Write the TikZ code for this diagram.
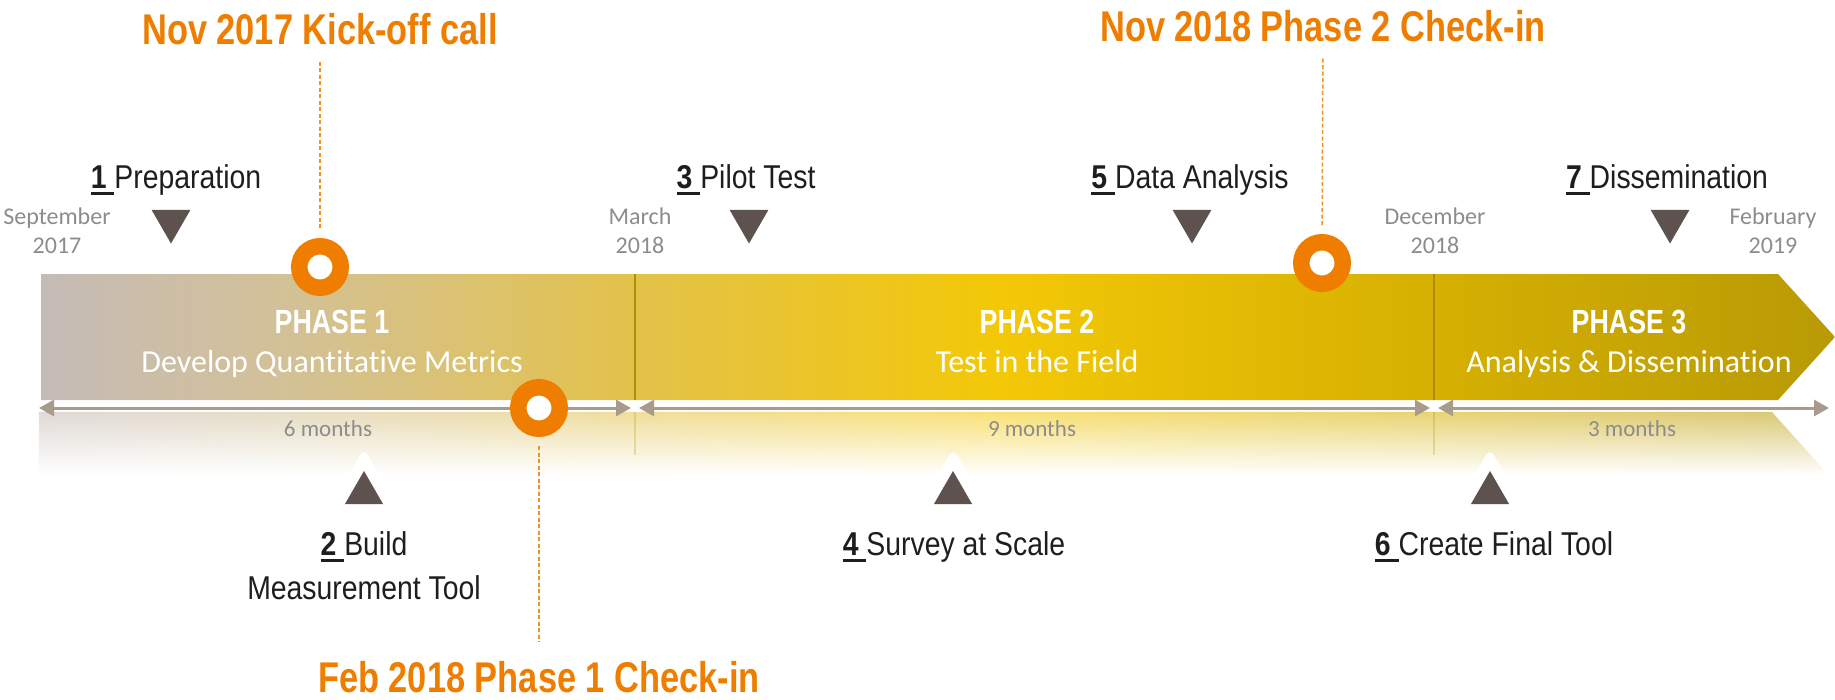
\documentclass[tikz,border=0pt]{standalone}
\usepackage{fontspec}
\setmainfont{Carlito}[Ligatures=NoCommon]
\newfontfamily\narrowfont[FakeStretch=0.86]{Liberation Sans}
\newfontfamily\headfont[FakeStretch=0.8]{Liberation Sans}
\newfontfamily\phasefont[FakeStretch=0.8]{Liberation Sans}
\usetikzlibrary{shapes.geometric, arrows.meta, fadings}

\definecolor{milestoneorange}{HTML}{EE7D00}
\definecolor{markbrown}{HTML}{5E524F}
\definecolor{dategray}{HTML}{8C8C8C}
\definecolor{spangray}{HTML}{A99B8C}
\definecolor{dividergold}{HTML}{B08E08}
\definecolor{labelblack}{HTML}{1E1E1E}
\definecolor{barA}{HTML}{C5BBB6}
\definecolor{barB}{HTML}{D3C196}
\definecolor{barC}{HTML}{E3C24A}
\definecolor{barD}{HTML}{F3C807}
\definecolor{barE}{HTML}{D6B002}
\definecolor{barF}{HTML}{B89A05}

\pgfdeclarehorizontalshading{barshade}{100bp}{color(0bp)=(barA); color(25bp)=(barA); color(32bp)=(barB); color(41.6bp)=(barC); color(51.7bp)=(barD); color(63.8bp)=(barE); color(75bp)=(barF); color(100bp)=(barF)}
\tikzfading[name=reflectfade, top color=transparent!45, middle color=transparent!85, bottom color=transparent!100]

% bold number with a thick underline under it
\newcommand\stepnum[1]{\setbox0\hbox{\bfseries#1\ }\rlap{\rule[-7pt]{\wd0}{3pt}}\box0}

\tikzstyle{milestone} = [inner sep=0pt, anchor=base, text=milestoneorange, font=\headfont\bfseries\fontsize{43}{50}\selectfont]
\tikzstyle{ring} = [circle, draw=milestoneorange, line width=16.5pt, fill=white, minimum size=41.5pt, inner sep=0pt]
\tikzstyle{dashline} = [milestoneorange!85, line width=1.5pt, dash pattern=on 4pt off 2.5pt]
\tikzstyle{downmark} = [regular polygon, regular polygon sides=3, shape border rotate=180, fill=markbrown, minimum size=45pt, inner sep=0pt]
\tikzstyle{upmark} = [regular polygon, regular polygon sides=3, fill=markbrown, minimum size=44pt, inner sep=0pt]
\tikzstyle{glow} = [regular polygon, regular polygon sides=3, fill=white, rounded corners=8pt, minimum size=95pt, inner sep=0pt]
\tikzstyle{steplabel} = [inner sep=0pt, anchor=base, text=labelblack, font=\narrowfont\fontsize{33}{44}\selectfont]
\tikzstyle{datelabel} = [inner sep=0pt, anchor=north, align=center, text=dategray, font=\fontsize{24}{29}\selectfont]
\tikzstyle{monthlabel} = [inner sep=0pt, anchor=base, text=dategray, font=\fontsize{23}{28}\selectfont]
\tikzstyle{phasetitle} = [inner sep=0pt, anchor=base, text=white, font=\phasefont\bfseries\fontsize{33.5}{40}\selectfont]
\tikzstyle{phasesub} = [inner sep=0pt, anchor=base, text=white, font=\fontsize{32}{38}\selectfont]
\tikzstyle{span} = [spangray, line width=3pt, {Triangle[length=15pt,width=16pt]}-{Triangle[length=15pt,width=16pt]}]
\tikzstyle{divider} = [dividergold, line width=2pt]

\begin{document}
\begin{tikzpicture}[x=1pt, y=-1pt]
\useasboundingbox (0,0) rectangle (1835,699);

% Bar and its reflection
\shade[shading=barshade] (41,274) -- (1778,274) -- (1835,337) -- (1778,400) -- (41,400) -- cycle;
\shade[shading=barshade, path fading=reflectfade] (41,412) -- (1778,412) -- (1835,475) -- (41,475) -- cycle;
\draw[divider] (635,274) -- (635,400);
\draw[divider] (1434,274) -- (1434,400);
\draw[divider, opacity=0.25] (635,412) -- (635,455);
\draw[divider, opacity=0.25] (1434,412) -- (1434,455);

% Durations
\coordinate (s0) at (39,408);
\coordinate (s1) at (635,408);
\coordinate (s2) at (1434,408);
\coordinate (s3) at (1829,408);
\draw[span, shorten >=4pt] (s0) -- (s1);
\draw[span, shorten <=4pt, shorten >=4pt] (s1) -- (s2);
\draw[span, shorten <=4pt] (s2) -- (s3);
\node[monthlabel] (len1) at (328,436) {6 months};
\node[monthlabel] (len2) at (1032,436) {9 months};
\node[monthlabel] (len3) at (1632,436) {3 months};

% Phases
\node[phasetitle] (phase1) at (332,333) {PHASE 1};
\node[phasesub] (phase1sub) at (332,372) {Develop Quantitative Metrics};
\node[phasetitle] (phase2) at (1037,333) {PHASE 2};
\node[phasesub] (phase2sub) at (1037,372) {Test in the Field};
\node[phasetitle] (phase3) at (1629,333) {PHASE 3};
\node[phasesub] (phase3sub) at (1629,372) {Analysis \& Dissemination};

% Dates
\node[datelabel] (sep17) at (57,208) {September\\2017};
\node[datelabel] (mar18) at (640,208) {March\\2018};
\node[datelabel] (dec18) at (1435,208) {December\\2018};
\node[datelabel] (feb19) at (1773,208) {February\\2019};

% Steps above the bar
\node[downmark] (mark1) at (171,221) {};
\node[downmark] (mark3) at (749,221) {};
\node[downmark] (mark5) at (1192,221) {};
\node[downmark] (mark7) at (1670,221) {};
\node[steplabel] (prep) at (176,188) {\stepnum{1}Preparation};
\node[steplabel] (pilot) at (746,188) {\stepnum{3}Pilot Test};
\node[steplabel] (analysis) at (1190,188) {\stepnum{5}Data Analysis};
\node[steplabel] (dissem) at (1667,188) {\stepnum{7}Dissemination};

% Steps below the bar
\node[glow] (glow2) at (364,496) {};
\node[glow] (glow4) at (953,496) {};
\node[glow] (glow6) at (1490,496) {};
\node[upmark] (mark2) at (364,493) {};
\node[upmark] (mark4) at (953,493) {};
\node[upmark] (mark6) at (1490,493) {};
\node[steplabel, anchor=north, align=center] (build) at (364,531) {\stepnum{2}Build\\Measurement Tool};
\node[steplabel] (survey) at (954,555) {\stepnum{4}Survey at Scale};
\node[steplabel] (final) at (1494,555) {\stepnum{6}Create Final Tool};

% Milestones
\node[ring] (kickring) at (320,267) {};
\node[ring] (checkring1) at (539,408) {};
\node[ring] (checkring2) at (1322,263) {};
\node[milestone] (kickoff) at (320,44) {Nov 2017 Kick-off call};
\node[milestone] (checkin1) at (539,692) {Feb 2018 Phase 1 Check-in};
\node[milestone] (checkin2) at (1323,41) {Nov 2018 Phase 2 Check-in};
\draw[dashline, shorten <=17pt, shorten >=9pt] (kickoff) -- (kickring);
\draw[dashline, shorten <=9pt, shorten >=19pt] (checkring1) -- (checkin1);
\draw[dashline, shorten <=17pt, shorten >=9pt] (checkin2) -- (checkring2);

\end{tikzpicture}
\end{document}
